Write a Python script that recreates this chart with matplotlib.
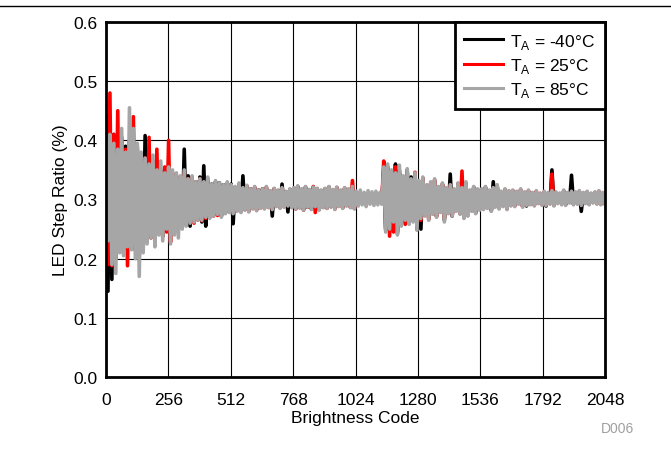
import numpy as np
import matplotlib
matplotlib.use('Agg')
import matplotlib.pyplot as plt

plt.rcParams['font.family'] = ['Liberation Sans', 'DejaVu Sans']

# LED step ratio, in units of 0.001 %
# one value every 8 brightness codes (256 per series)
t_m40 = [440, 145, 430, 165, 410, 200, 395, 225, 405, 215, 390, 220, 400, 230, 380, 215,
         385, 205, 375, 215, 408, 230, 365, 240, 360, 235, 355, 245, 350, 238, 345, 255,
         350, 240, 345, 245, 340, 250, 338, 255, 385, 258, 340, 255, 335, 265, 330, 268,
         338, 262, 357, 255, 330, 270, 326, 274, 330, 276, 328, 272, 325, 278, 324, 280,
         326, 259, 320, 282, 325, 280, 340, 283, 322, 281, 318, 285, 320, 283, 316, 287,
         318, 286, 320, 288, 314, 272, 318, 289, 315, 287, 326, 290, 313, 279, 317, 288,
         319, 285, 322, 287, 317, 283, 321, 287, 316, 285, 321, 288, 318, 284, 315, 287,
         318, 286, 321, 288, 316, 285, 320, 289, 315, 286, 319, 290, 317, 287, 320, 285,
         309, 293, 311, 295, 307, 292, 310, 296, 308, 294, 309, 295, 307, 296, 350, 250,
         355, 255, 345, 265, 360, 245, 350, 258, 335, 268, 348, 260, 338, 265, 340, 250,
         328, 250, 335, 274, 322, 268, 326, 277, 332, 272, 320, 280, 325, 265, 318, 278,
         343, 272, 316, 282, 325, 277, 318, 270, 326, 274, 314, 282, 320, 278, 316, 284,
         316, 285, 320, 287, 314, 282, 330, 289, 322, 286, 312, 290, 316, 285, 313, 291,
         314, 290, 312, 294, 316, 289, 311, 289, 314, 293, 310, 291, 313, 294, 309, 292,
         312, 289, 310, 294, 350, 291, 311, 295, 309, 293, 314, 292, 310, 295, 341, 293,
         311, 294, 313, 280, 310, 295, 312, 293, 309, 296, 311, 294, 313, 293, 310, 295]

t_25 = [420, 190, 480, 188, 410, 205, 450, 215, 395, 220, 385, 188, 400, 225, 440, 215,
        390, 220, 375, 245, 370, 230, 405, 235, 365, 240, 385, 242, 350, 238, 355, 245,
        400, 228, 345, 248, 340, 250, 338, 253, 345, 258, 335, 262, 338, 260, 330, 265,
        335, 264, 328, 268, 336, 270, 324, 272, 330, 273, 326, 272, 324, 277, 328, 279,
        324, 278, 321, 281, 326, 279, 318, 283, 323, 280, 317, 285, 321, 282, 315, 286,
        317, 285, 321, 287, 314, 284, 318, 289, 315, 286, 319, 288, 313, 290, 317, 287,
        319, 284, 322, 286, 317, 282, 321, 287, 316, 284, 322, 278, 318, 283, 315, 287,
        318, 285, 321, 288, 316, 284, 320, 289, 315, 286, 319, 290, 317, 287, 332, 285,
        309, 293, 311, 295, 307, 292, 310, 296, 308, 294, 309, 295, 307, 296, 365, 248,
        352, 238, 348, 245, 355, 242, 345, 260, 338, 258, 350, 265, 332, 264, 346, 255,
        330, 265, 336, 273, 324, 266, 328, 276, 333, 271, 321, 279, 326, 268, 319, 277,
        323, 273, 317, 281, 327, 276, 348, 269, 328, 273, 315, 281, 321, 277, 317, 283,
        317, 284, 321, 286, 315, 281, 319, 288, 324, 285, 313, 289, 317, 284, 314, 290,
        315, 289, 313, 293, 317, 288, 312, 291, 315, 292, 311, 290, 314, 294, 310, 291,
        313, 291, 311, 293, 343, 290, 312, 294, 310, 292, 315, 291, 311, 296, 313, 292,
        312, 293, 314, 291, 311, 294, 313, 292, 310, 295, 312, 293, 314, 292, 311, 294]

t_85 = [400, 230, 410, 190, 395, 175, 385, 210, 420, 205, 380, 220, 455, 215, 420, 200,
        395, 170, 380, 210, 370, 225, 360, 235, 375, 220, 350, 240, 365, 230, 345, 250,
        355, 225, 350, 240, 345, 235, 340, 250, 350, 255, 335, 260, 340, 262, 330, 265,
        335, 265, 330, 270, 338, 268, 326, 272, 332, 275, 328, 270, 325, 276, 330, 278,
        325, 276, 322, 280, 328, 278, 320, 282, 324, 279, 318, 284, 322, 281, 316, 285,
        318, 284, 322, 286, 315, 283, 319, 288, 316, 285, 320, 287, 314, 289, 318, 286,
        320, 284, 323, 286, 318, 282, 322, 287, 317, 283, 321, 288, 319, 282, 316, 286,
        319, 285, 322, 287, 317, 283, 321, 288, 316, 285, 320, 289, 318, 286, 322, 284,
        314, 289, 316, 291, 312, 288, 315, 292, 313, 290, 314, 291, 312, 292, 355, 245,
        360, 250, 350, 262, 345, 240, 358, 255, 340, 265, 352, 258, 335, 262, 345, 248,
        332, 268, 338, 272, 325, 265, 330, 275, 335, 270, 322, 278, 328, 262, 320, 276,
        325, 272, 318, 280, 328, 275, 320, 268, 330, 272, 316, 280, 322, 276, 318, 282,
        318, 283, 322, 285, 316, 280, 320, 287, 325, 284, 314, 288, 318, 283, 315, 289,
        316, 288, 314, 292, 318, 287, 313, 290, 316, 291, 312, 289, 315, 293, 311, 290,
        314, 290, 312, 292, 315, 289, 313, 293, 311, 291, 316, 290, 312, 294, 314, 291,
        313, 292, 315, 290, 312, 293, 314, 291, 311, 294, 313, 292, 315, 291, 312, 293]

codes = np.linspace(0, 2047, len(t_85))
x_ticks = [0, 256, 512, 768, 1024, 1280, 1536, 1792, 2048]
y_ticks = [0.0, 0.1, 0.2, 0.3, 0.4, 0.5, 0.6]

fig = plt.figure(figsize=(6.71, 4.64), dpi=100)
ax = fig.add_axes([106/671, 1-378/464, (605-106)/671, (378-23)/464])

ax.plot(codes, np.array(t_m40)/1000, color='black', lw=2.6, label='T$_\\mathregular{A}$ = -40°C')
ax.plot(codes, np.array(t_25)/1000, color='red', lw=2.6, label='T$_\\mathregular{A}$ = 25°C')
ax.plot(codes, np.array(t_85)/1000, color='#a6a6a6', lw=2.6, label='T$_\\mathregular{A}$ = 85°C')

ax.set_xlim(0, 2048)
ax.set_ylim(0, 0.6)
ax.set_xticks(x_ticks)
ax.set_yticks(y_ticks)
ax.set_yticklabels(['%.1f' % v for v in y_ticks])
ax.tick_params(length=0, labelsize=12.5)
ax.tick_params(axis='x', pad=11)
ax.tick_params(axis='y', pad=6)
ax.grid(True, color='black', lw=0.8)
ax.set_axisbelow(True)
for s in ax.spines.values():
    s.set_linewidth(2)

ax.set_xlabel('Brightness Code', fontsize=12.5, labelpad=2)
ax.set_ylabel('LED Step Ratio (%)', fontsize=12.5, labelpad=4)

leg = ax.legend(loc='upper right', fontsize=12.5, fancybox=False, framealpha=1,
                borderaxespad=0, handlelength=2.2, handletextpad=0.45,
                labelspacing=0.3, borderpad=0.55)
leg.get_frame().set_edgecolor('black')
leg.get_frame().set_linewidth(2)
for l in leg.get_lines():
    l.set_linewidth(2.2)

fig.add_artist(plt.Line2D([0, 1], [1-7/464, 1-7/464], color='black', lw=1))
fig.text(617/671, 1-429/464, 'D006', color='#a0a0a0', fontsize=10, ha='center', va='center')

fig.savefig('out.png', dpi=100)
